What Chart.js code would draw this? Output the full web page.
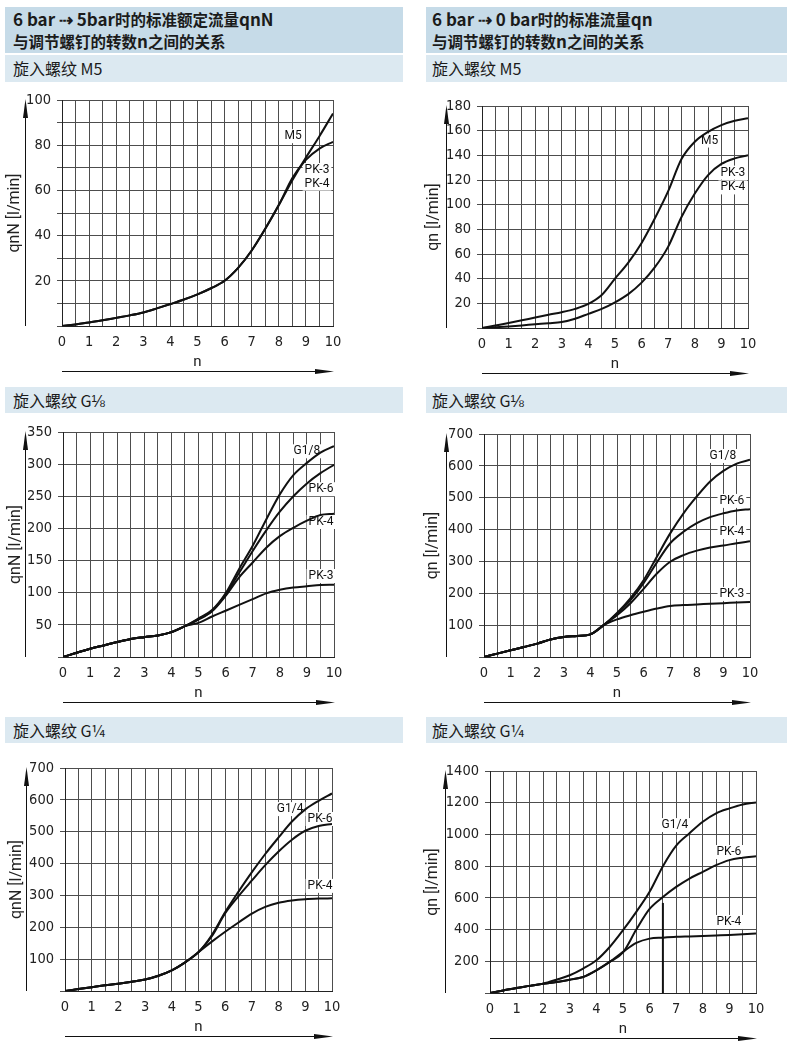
<!DOCTYPE html>
<html lang="zh">
<head>
<meta charset="utf-8">
<title>qnN / qn – n</title>
<script src="https://cdn.jsdelivr.net/npm/chart.js@4.4.1/dist/chart.umd.min.js"></script>
<style>
  body { margin: 0; width: 790px; height: 1048px; position: relative; background: #fff; overflow: hidden;
         font-family: "Noto Sans CJK SC", sans-serif; color: #1b1b1b; }
  .band { position: absolute; box-sizing: border-box; white-space: nowrap; }
  .head { top: 7px; height: 46px; background: #c6dbe8; font-weight: bold; font-size: 15.5px; line-height: 22px; padding-top: 1px;
          font-family: "Liberation Sans Narrow", "Noto Sans CJK SC", sans-serif; }
  .head .big { font-size: 17px; }
  .sub { background: #dce9f1; font-size: 16px; }
  .l { left: 5px; width: 398px; padding-left: 8px; }
  .r { left: 426px; width: 361px; padding-left: 6px; }
  canvas { position: absolute; }
</style>
</head>
<body>
<div class="band head l"><span class="big">6 bar ⇢ 5bar</span>时的标准额定流量<span class="big">qnN</span><br>与调节螺钉的转数<span class="big">n</span>之间的关系</div>
<div class="band head r"><span class="big">6 bar ⇢ 0 bar</span>时的标准流量<span class="big">qn</span><br>与调节螺钉的转数<span class="big">n</span>之间的关系</div>
<div class="band sub l" style="top:55px;height:27px;line-height:27px">旋入螺纹 M5</div>
<div class="band sub r" style="top:55px;height:27px;line-height:27px">旋入螺纹 M5</div>
<div class="band sub l" style="top:387px;height:26px;line-height:26px">旋入螺纹 G⅛</div>
<div class="band sub r" style="top:387px;height:26px;line-height:26px">旋入螺纹 G⅛</div>
<div class="band sub l" style="top:717px;height:26px;line-height:26px">旋入螺纹 G¼</div>
<div class="band sub r" style="top:717px;height:26px;line-height:26px">旋入螺纹 G¼</div>

<script>
// turns of the adjusting screw
const nSteps = [0, 0.5, 1, 1.5, 2, 2.5, 3, 3.5, 4, 4.5, 5, 5.5, 6, 6.5, 7, 7.5, 8, 8.5, 9, 9.5, 10];
const xLabels = [0, 1, 2, 3, 4, 5, 6, 7, 8, 9, 10];

// M5, qnN (6 -> 5 bar)
const a1M5 = [0, 0.7, 1.5, 2.5, 3.6, 4.7, 6, 7.8, 9.7, 11.7, 14, 16.7, 20, 25.7, 33.4, 43, 53.5, 64.5, 74.5, 84, 94];
const a1PK = [0, 0.7, 1.5, 2.5, 3.6, 4.7, 6, 7.8, 9.7, 11.7, 14, 16.7, 20, 25.7, 33.4, 43, 53.5, 65.5, 73.5, 78.5, 81.5];
const a1Ticks = [20, 40, 60, 80, 100];

// M5, qn (6 -> 0 bar)
const b1M5 = [0, 2, 4, 6.2, 8.5, 10.7, 12.8, 15.5, 19.5, 26.7, 40, 53, 69, 89, 111, 137, 151, 159, 164.5, 168, 170];
const b1PK = [0, 0.6, 1.3, 2.1, 3, 3.8, 4.8, 7.5, 11.5, 15.5, 20.8, 27.5, 36.8, 49.3, 66, 90, 109, 124, 133, 137.5, 140];
const b1Ticks = [20, 40, 60, 80, 100, 120, 140, 160, 180];

// G1/8, qnN
const a2G18 = [0, 6.5, 12.9, 18, 23.2, 28, 30.9, 33.5, 38.7, 48, 60, 73, 99, 137, 173, 214, 253, 283, 302, 318, 328];
const a2PK6 = [0, 6.5, 12.9, 18, 23.2, 28, 30.9, 33.5, 38.7, 48, 59, 72, 97, 131, 165, 197, 226, 250, 270, 286, 299];
const a2PK4 = [0, 6.5, 12.9, 18, 23.2, 28, 30.9, 33.5, 38.7, 48, 58, 71, 95, 124, 147, 170, 188, 201, 212, 221, 223];
const a2PK3 = [0, 6.5, 12.9, 18, 23.2, 28, 30.9, 33.5, 38.7, 48, 53, 63, 72, 81, 90, 99, 104.5, 108, 110, 112, 112.5];
const a2Ticks = [50, 100, 150, 200, 250, 300, 350];

// G1/8, qn
const b2G18 = [0, 10.5, 21, 31.5, 42, 55, 63, 66, 71, 100, 138, 184, 241, 315, 388, 451, 504, 551, 584, 607, 619];
const b2PK6 = [0, 10.5, 21, 31.5, 42, 55, 63, 66, 71, 100, 136, 178, 232, 297, 357, 393, 420, 439, 451, 460, 464];
const b2PK4 = [0, 10.5, 21, 31.5, 42, 55, 63, 66, 71, 100, 131, 168, 214, 262, 299, 320, 334, 344, 350, 357, 363];
const b2PK3 = [0, 10.5, 21, 31.5, 42, 55, 63, 66, 71, 100, 118, 131, 142, 152, 160, 163, 165, 167, 169, 171, 173];
const b2Ticks = [100, 200, 300, 400, 500, 600, 700];

// G1/4, qnN
const a3G14 = [0, 6, 12, 18, 23, 29, 36, 48, 65, 90, 122, 176, 248, 312, 373, 430, 482, 532, 570, 597, 620];
const a3PK6 = [0, 6, 12, 18, 23, 29, 36, 48, 65, 90, 122, 172, 244, 298, 347, 395, 438, 475, 503, 518, 524];
const a3PK4 = [0, 6, 12, 18, 23, 29, 36, 48, 65, 90, 122, 155, 186, 215, 243, 264, 277, 284, 288, 290, 291];
const a3Ticks = [100, 200, 300, 400, 500, 600, 700];

// G1/4, qn
const b3G14 = [0, 16, 32, 45, 59, 84, 112, 154, 206, 290, 396, 512, 638, 800, 930, 1008, 1080, 1133, 1164, 1189, 1202];
const b3PK6 = [0, 16, 32, 45, 59, 69, 84, 101, 143, 196, 256, 400, 530, 605, 669, 722, 764, 806, 838, 853, 863];
const b3PK4 = [0, 16, 32, 45, 59, 69, 84, 101, 143, 196, 259, 316, 343, 349, 354, 357, 360, 363, 366, 370, 375];
const b3MarkN = [6.5, 6.5];
const b3MarkQ = [0, 568];
const b3Ticks = [200, 400, 600, 800, 1000, 1200, 1400];

const tickFont = "'Liberation Sans Narrow', 'DejaVu Sans Condensed', sans-serif";

// axis arrows + curve names
const decor = {
  id: 'decor',
  beforeDatasetsDraw(chart, args, opts) {
    const { ctx, scales: { x, y } } = chart;
    ctx.save();
    ctx.font = "12px 'Liberation Sans Narrow', Roboto, sans-serif";
    ctx.textAlign = 'center';
    ctx.textBaseline = 'middle';
    opts.tags.forEach(t => {
      const px = x.getPixelForValue(t.n), py = y.getPixelForValue(t.q);
      const w = ctx.measureText(t.text).width + 4;
      ctx.fillStyle = '#fff';
      ctx.fillRect(px - w / 2, py - 7, w, 14);
      ctx.fillStyle = '#111';
      ctx.fillText(t.text, px, py);
    });
    ctx.restore();
  },
  afterDraw(chart, args, opts) {
    const { ctx, chartArea: { left, right, top, bottom } } = chart;
    ctx.save();
    ctx.strokeStyle = ctx.fillStyle = '#111';
    ctx.lineWidth = 1;
    const ax = opts.arrowX + 0.5;
    ctx.beginPath(); ctx.moveTo(ax, bottom); ctx.lineTo(ax, top + 10); ctx.stroke();
    ctx.beginPath(); ctx.moveTo(ax, top - 1); ctx.lineTo(ax - 2.5, top + 18); ctx.lineTo(ax + 2.5, top + 18); ctx.closePath(); ctx.fill();
    const ay = bottom + 45.5;
    ctx.beginPath(); ctx.moveTo(left, ay); ctx.lineTo(right - 10, ay); ctx.stroke();
    ctx.beginPath(); ctx.moveTo(right + 1, ay); ctx.lineTo(right - 18, ay - 2.5); ctx.lineTo(right - 18, ay + 2.5); ctx.closePath(); ctx.fill();
    ctx.restore();
  }
};

function curve(vals) {
  return {
    data: nSteps.map((n, i) => ({ x: n, y: vals[i] })),
    borderColor: '#111', borderWidth: 2, pointRadius: 0, fill: false,
    cubicInterpolationMode: 'monotone'
  };
}

function makeChart(p) {
  const cv = document.createElement('canvas');
  cv.width = p.r + 20 - p.cl;
  cv.height = p.b - p.t + 72;
  cv.style.left = p.cl + 'px';
  cv.style.top = (p.t - 20) + 'px';
  document.body.appendChild(cv);

  const datasets = p.series.map(curve);
  if (p.mark) {
    datasets.push({
      data: p.mark[0].map((n, i) => ({ x: n, y: p.mark[1][i] })),
      borderColor: '#111', borderWidth: 2, pointRadius: 0, fill: false
    });
  }

  new Chart(cv, {
    type: 'line',
    data: { datasets },
    plugins: [decor],
    options: {
      responsive: false,
      animation: false,
      events: [],
      layout: { padding: { left: 0, top: 20, right: 20, bottom: 0 } },
      scales: {
        x: {
          type: 'linear', min: 0, max: 10,
          ticks: {
            stepSize: 0.5, autoSkip: false, maxRotation: 0, maxTicksLimit: 100, padding: 8,
            color: '#222', font: { family: tickFont, size: 14.5 },
            callback: v => xLabels.includes(v) ? v : ''
          },
          grid: { color: '#4d4d4d', lineWidth: 1, drawTicks: false },
          border: { color: '#222', width: 1 },
          title: { display: true, text: 'n', color: '#222', font: { family: 'Roboto', size: 15 }, padding: { top: 0, bottom: 7 } },
          afterFit: s => { s.height = 52; }
        },
        y: {
          min: 0, max: p.max,
          ticks: {
            stepSize: p.step, maxTicksLimit: 100, padding: 6,
            color: '#222', font: { family: tickFont, size: 14.5 },
            callback: v => p.ticks.includes(v) ? v : ''
          },
          grid: { color: '#4d4d4d', lineWidth: 1, tickLength: 5 },
          border: { color: '#222', width: 1 },
          title: { display: true, text: p.yTitle, color: '#222', font: { family: 'Roboto', size: 16 }, padding: { top: p.titleX - 9.6, bottom: 0 } },
          afterFit: s => { s.width = p.l - p.cl; }
        }
      },
      plugins: {
        legend: { display: false },
        tooltip: { enabled: false },
        decor: { arrowX: p.arrowX - p.cl, tags: p.tags }
      }
    }
  });
}

const panels = [
  { cl: 0, l: 62, t: 100, r: 333, b: 326, arrowX: 25, titleX: 15, yTitle: 'qnN [l/min]',
    max: 100, step: 10, ticks: a1Ticks, series: [a1M5, a1PK],
    tags: [{ text: 'M5', n: 8.53, q: 84 }, { text: 'PK-3', n: 9.41, q: 69 }, { text: 'PK-4', n: 9.41, q: 63 }] },
  { cl: 395, l: 482, t: 106, r: 748, b: 328, arrowX: 446, titleX: 39, yTitle: 'qn [l/min]',
    max: 180, step: 20, ticks: b1Ticks, series: [b1M5, b1PK],
    tags: [{ text: 'M5', n: 8.56, q: 152 }, { text: 'PK-3', n: 9.43, q: 126 }, { text: 'PK-4', n: 9.43, q: 114 }] },
  { cl: 0, l: 63, t: 432, r: 334, b: 657, arrowX: 25, titleX: 16, yTitle: 'qnN [l/min]',
    max: 350, step: 50, ticks: a2Ticks, series: [a2G18, a2PK6, a2PK4, a2PK3],
    tags: [{ text: 'G1/8', n: 9.0, q: 320 }, { text: 'PK-6', n: 9.52, q: 261 }, { text: 'PK-4', n: 9.52, q: 210 }, { text: 'PK-3', n: 9.52, q: 126 }] },
  { cl: 395, l: 484, t: 434, r: 750, b: 657, arrowX: 446, titleX: 38, yTitle: 'qn [l/min]',
    max: 700, step: 100, ticks: b2Ticks, series: [b2G18, b2PK6, b2PK4, b2PK3],
    tags: [{ text: 'G1/8', n: 8.98, q: 631 }, { text: 'PK-6', n: 9.32, q: 490 }, { text: 'PK-4', n: 9.32, q: 392 }, { text: 'PK-3', n: 9.32, q: 198 }] },
  { cl: 0, l: 65, t: 768, r: 332, b: 991, arrowX: 26, titleX: 17, yTitle: 'qnN [l/min]',
    max: 700, step: 100, ticks: a3Ticks, series: [a3G14, a3PK6, a3PK4],
    tags: [{ text: 'G1/4', n: 8.43, q: 571 }, { text: 'PK-6', n: 9.55, q: 540 }, { text: 'PK-4', n: 9.55, q: 330 }] },
  { cl: 395, l: 490, t: 771, r: 756, b: 993, arrowX: 445, titleX: 38, yTitle: 'qn [l/min]',
    max: 1400, step: 200, ticks: b3Ticks, series: [b3G14, b3PK6, b3PK4], mark: [b3MarkN, b3MarkQ],
    tags: [{ text: 'G1/4', n: 6.95, q: 1059 }, { text: 'PK-6', n: 8.98, q: 889 }, { text: 'PK-4', n: 8.98, q: 448 }] }
];

panels.forEach(makeChart);
</script>
</body>
</html>
